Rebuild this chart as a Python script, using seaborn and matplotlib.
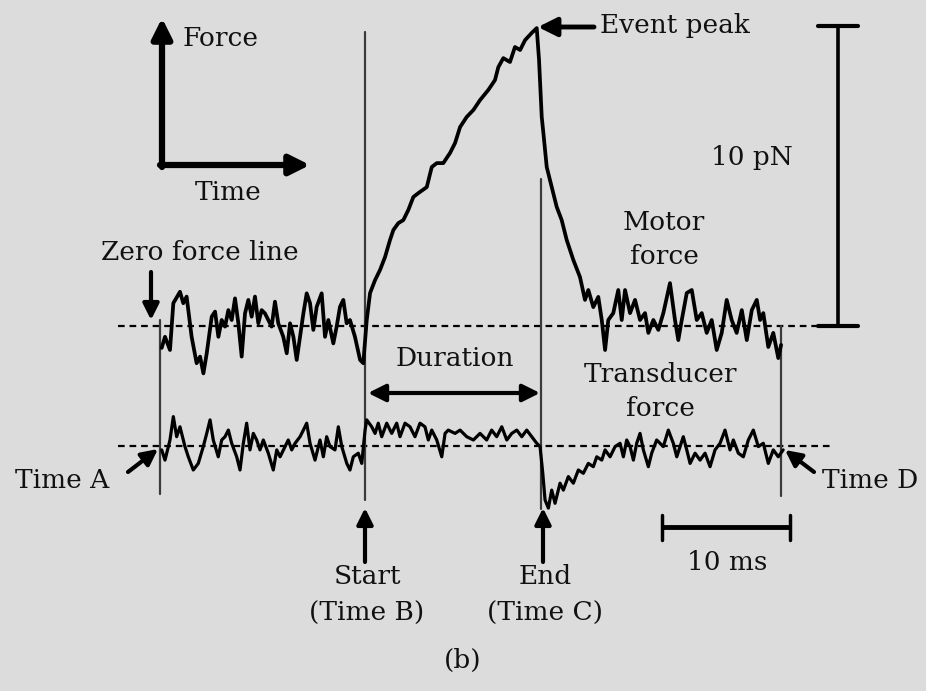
import numpy as np
import pandas as pd
import seaborn as sns
import matplotlib
matplotlib.use("Agg")
import matplotlib.pyplot as plt

# ---------------- data (time in ms, force in pN) ----------------
motor_t = [0.13, 0.39, 0.78, 1.04, 1.56, 1.82, 2.08, 2.47, 2.86, 3.13, 3.39, 3.65, 4.04, 4.30, 4.56,
           4.82, 5.08, 5.34, 5.60, 5.86, 6.12, 6.38, 6.64, 6.90, 7.16, 7.42, 7.68, 7.94, 8.20, 8.46,
           8.72, 8.98, 9.24, 9.63, 9.90, 10.16, 10.42, 10.68, 10.94, 11.20, 11.46, 11.72, 11.98, 12.24,
           12.63, 12.89, 13.15, 13.54, 13.80, 14.06, 14.32, 14.58, 14.84, 15.23, 15.63, 15.88, 16.15,
           16.41, 16.80, 17.19, 17.58, 17.97, 18.23, 18.62, 19.01, 19.40, 19.79, 20.18, 20.84, 21.23,
           21.62, 22.13, 22.66, 23.05, 23.44, 23.96, 24.48, 25.00, 25.65, 26.17, 26.43, 26.82, 27.34,
           27.73, 28.13, 28.52, 29.04, 29.43, 29.61, 29.82, 29.95, 30.21, 30.60, 30.99, 31.38, 31.77,
           32.29, 32.81, 33.20, 33.46, 33.85, 34.24, 34.51, 34.77, 35.02, 35.41, 35.80, 36.07, 36.33,
           36.72, 37.11, 37.50, 37.89, 38.15, 38.54, 38.93, 39.32, 39.84, 40.23, 40.49, 40.76, 41.15,
           41.54, 41.93, 42.32, 42.71, 43.10, 43.49, 43.88, 44.27, 44.66, 45.05, 45.45, 45.84, 46.23,
           46.62, 46.88, 47.13, 47.52, 47.91, 48.30, 48.52]
motor_f = [-0.73, -0.36, -0.80, 0.76, 1.14, 0.76, 0.98, -0.36, -1.24, -1.02, -1.58, -0.91, 0.31, 0.48,
           -0.36, 0.20, -0.02, 0.53, 0.20, 0.92, 0.09, -1.02, 0.42, 0.87, 0.31, 0.98, 0.09, 0.53, 0.42,
           0.20, -0.02, 0.81, 0.09, -0.36, -0.91, 0.09, -0.36, -1.13, -0.36, 0.42, 1.09, 0.76, -0.13,
           0.64, 1.09, -0.36, 0.20, -0.58, -0.02, 0.64, 0.87, 0.09, 0.20, -0.36, -1.13, -1.24, 0.20,
           1.10, 1.53, 1.87, 2.30, 2.87, 3.20, 3.43, 3.53, 3.87, 4.30, 4.43, 4.63, 5.30,
           5.43, 5.43, 5.77, 6.10, 6.63, 6.97, 7.20, 7.53, 7.87, 8.20, 8.63, 8.93, 8.80,
           9.30, 9.20, 9.53, 9.77, 9.93, 8.87, 6.97, 6.43, 5.30, 4.63, 3.97, 3.53, 2.87,
           2.20, 1.63, 0.87, 1.20, 0.63, 0.97, 0.20, -0.80, 0.20, 0.43, 1.20, 0.20, 1.20,
           0.43, 0.87, 0.20, 0.43, -0.23, 0.20, -0.13, 0.43, 1.43, 0.20, -0.47, 0.20, 1.10,
           1.20, 0.20, 0.43, -0.23, 0.20, -0.80, -0.23, 0.87, 0.20, -0.23, 0.53, -0.47, 0.53,
           0.87, 0.20, 0.43, -0.70, -0.23, -1.07, -0.63]

trans_t = [0.13, 0.39, 0.78, 1.04, 1.30, 1.56, 1.95, 2.21, 2.60, 2.99, 3.38, 3.65, 3.91, 4.16, 4.55,
           4.82, 5.08, 5.34, 5.60, 5.99, 6.25, 6.51, 6.77, 7.03, 7.29, 7.55, 7.81, 8.07, 8.46, 8.85,
           9.12, 9.38, 9.77, 10.02, 10.29, 10.55, 10.94, 11.20, 11.46, 11.72, 12.11, 12.50, 12.76,
           13.02, 13.28, 13.67, 13.93, 14.20, 14.59, 14.84, 15.10, 15.49, 15.76, 16.02,
           16.15, 16.54, 16.80, 17.05, 17.32, 17.71, 18.10, 18.49, 18.75, 19.14, 19.53, 19.92, 20.31,
           20.70, 20.96, 21.23, 21.62, 22.01, 22.27, 22.52, 23.05, 23.44, 23.96, 24.48, 25.00, 25.52,
           25.91, 26.30, 26.70, 27.09, 27.48, 27.87, 28.26, 28.65, 29.04, 29.43, 29.69, 29.90, 30.08,
           30.34, 30.60, 30.86, 31.25, 31.51, 31.90, 32.29, 32.68, 33.07, 33.46, 33.85, 34.12, 34.51,
           34.77, 35.16, 35.55, 35.94, 36.20, 36.46, 36.72, 36.98, 37.24, 37.50, 37.76, 38.15, 38.41,
           38.80, 39.32, 39.71, 40.10, 40.37, 40.63, 40.88, 41.15, 41.41, 41.80, 42.19, 42.58, 42.97,
           43.36, 43.75, 44.14, 44.53, 44.79, 45.18, 45.57, 45.96, 46.35, 46.74, 47.13, 47.52, 47.91,
           48.30, 48.68]
trans_f = [-0.13, -0.47, 0.20, 0.98, 0.31, 0.64, -0.02, -0.36, -0.80, -0.58, -0.02, 0.42, 0.87, 0.20,
           -0.36, 0.20, 0.31, 0.53, 0.09, -0.36, -0.80, 0.09, 0.76, -0.13, 0.42, 0.20, -0.13, 0.20,
           -0.24, -0.80, -0.13, -0.36, -0.02, 0.20, -0.13, 0.09, 0.31, 0.53, 0.76, 0.09, -0.47, 0.20,
           -0.36, 0.31, -0.02, -0.13, 0.64, -0.02, -0.58, -0.80, -0.36, -0.24, -0.58, 0.53,
           0.87, 0.64, 0.42, 0.76, 0.31, 0.76, 0.42, 0.76, 0.31, 0.76, 0.64, 0.31, 0.76,
           0.64, 0.20, 0.53, 0.20, -0.36, 0.42, 0.53, 0.42, 0.53, 0.31, 0.20, 0.42, 0.20,
           0.53, 0.31, 0.64, 0.20, 0.42, 0.53, 0.31, 0.53, 0.31, 0.09, -0.02, -0.90, -1.80,
           -2.07, -1.47, -1.91, -1.24, -1.47, -1.02, -1.24, -0.80, -0.91, -0.58, -0.69, -0.36, -0.47,
           -0.13, -0.36, -0.02, 0.09, -0.36, 0.20, -0.02, -0.47, 0.09, 0.42, -0.13, -0.69, -0.24,
           0.20, -0.02, 0.53, 0.09, -0.36, -0.02, 0.31, -0.13, -0.58, -0.24, -0.47, -0.24, -0.69,
           -0.13, 0.09, 0.53, -0.13, 0.20, -0.24, -0.36, 0.20, 0.53, -0.02, 0.09, -0.58, -0.13,
           -0.36, -0.13]

event_times = [0.0, 16.0, 29.8, 48.5]          # Time A, B, C, D (ms)
event_tops = [0.2, 9.8, 4.9, 0.0]               # upper ends of the marker lines (pN)
event_bottoms = [-5.6, -5.8, -6.1, -5.66]       # lower ends of the marker lines (pN)
transducer_offset = -4.0                        # display offset of transducer trace (pN)
scale_ms = 10
scale_pN = 10

# ---------------- figure ----------------
W, H = 926, 691
sns.set_theme(style="white")
plt.rcParams['font.family'] = ['DejaVu Serif']
BG = '#dcdcdc'
fig = plt.figure(figsize=(W / 100, H / 100), dpi=100, facecolor=BG)
ax = fig.add_axes([0, 0, 1, 1])
ax.set_facecolor(BG)

def P(x, y):
    return (x / W, 1 - y / H)

FS = 19

df_m = pd.DataFrame({'t': motor_t, 'F': motor_f})
df_tr = pd.DataFrame({'t': trans_t, 'F': np.array(trans_f) + transducer_offset})

# zero force lines
ax.plot([-3.3, 53.0], [0, 0], color='black', lw=1.6, ls=(0, (3, 2.2)), zorder=1)
ax.plot([-3.3, 52.5], [transducer_offset] * 2, color='black', lw=1.6, ls=(0, (3, 2.2)), zorder=1)

# event marker lines
for t, a, b in zip(event_times, event_tops, event_bottoms):
    ax.plot([t, t], [b, a], color='#3a3a3a', lw=1.6, zorder=2)

sns.lineplot(data=df_m, x='t', y='F', sort=False, estimator=None, color='black', lw=2.7, ax=ax, zorder=3)
sns.lineplot(data=df_tr, x='t', y='F', sort=False, estimator=None, color='black', lw=2.3, ax=ax, zorder=3)
ax.set_xlim(-12.5, 59.84)
ax.set_ylim(-12.167, 10.867)
ax.axis('off')

# scale bars
x0 = 39.2
ax.plot([x0, x0 + scale_ms], [-6.7, -6.7], color='black', lw=3.5, solid_capstyle='butt')
for xx in (x0, x0 + scale_ms):
    ax.plot([xx, xx], [-6.3, -7.15], color='black', lw=2.5)
xb = 52.97
ax.plot([xb, xb], [0, scale_pN], color='black', lw=2.6)
for yy in (0, scale_pN):
    ax.plot([xb - 1.55, xb + 1.55], [yy, yy], color='black', lw=3.0)

# arrows
def arrow(p_from, p_to, lw=3, ms=26, style='-|>'):
    ax.annotate('', xy=P(*p_to), xycoords='axes fraction', xytext=P(*p_from), textcoords='axes fraction',
                arrowprops=dict(arrowstyle=style, lw=lw, color='black', mutation_scale=ms,
                                shrinkA=0, shrinkB=0))

arrow((162, 167), (162, 18), lw=4.5, ms=30)
arrow((160, 165), (310, 165), lw=4.5, ms=30)
arrow((151, 272), (151, 320), lw=3, ms=24)
arrow((594, 27), (538, 27), lw=3.5, ms=28)
arrow((128, 472), (158, 449), lw=3, ms=24)
arrow((814, 472), (785, 450), lw=3, ms=24)
arrow((365, 562), (365, 508), lw=3, ms=24)
arrow((543, 562), (543, 508), lw=3, ms=24)
arrow((368, 393), (540, 393), lw=3, ms=26, style='<|-|>')

# texts
def txt(x, y, s, ha='center', fs=FS):
    ax.text(*P(x, y), s, transform=ax.transAxes, ha=ha, va='center', fontsize=fs, color='#111111')

txt(182, 38, 'Force', ha='left')
txt(228, 192, 'Time')
txt(200, 252, 'Zero force line')
txt(600, 25, 'Event peak', ha='left')
txt(752, 157, '10 pN')
txt(664, 222, 'Motor')
txt(664, 256, 'force')
txt(455, 358, 'Duration')
txt(660, 374, 'Transducer')
txt(660, 409, 'force')
txt(62, 481, 'Time A')
txt(870, 481, 'Time D')
txt(367, 577, 'Start')
txt(367, 613, '(Time B)')
txt(545, 577, 'End')
txt(545, 613, '(Time C)')
txt(727, 563, '10 ms')
txt(463, 660, '(b)')

fig.savefig('out.png', dpi=100, facecolor=BG)
